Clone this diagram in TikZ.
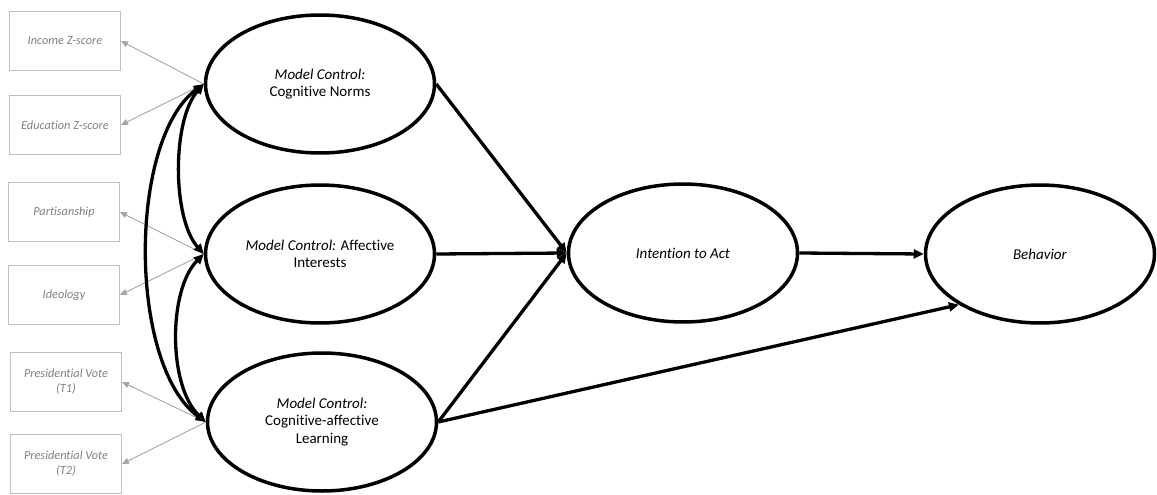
\documentclass[tikz,border=0pt]{standalone}
\usepackage{fontspec}
\setmainfont[Ligatures=NoCommon]{Carlito}
\usetikzlibrary{shapes.geometric,arrows.meta}
\definecolor{boxline}{HTML}{BFBFBF}
\definecolor{boxtext}{HTML}{808080}
\definecolor{linkgray}{HTML}{A6A6A6}
\begin{document}
\begin{tikzpicture}[x=1pt,y=-1pt,
  latent/.style={ellipse, draw, line width=3.5pt, minimum width=229pt, minimum height=138pt,
    inner sep=0pt, align=center, font=\fontsize{15}{17.5}\selectfont},
  control/.style={rectangle, draw=boxline, line width=1pt, minimum width=111pt, minimum height=59pt,
    inner sep=2pt, align=center, text=boxtext, font=\fontsize{12.3}{15}\selectfont\itshape},
  ctrlpath/.style={draw=linkgray, line width=0.9pt, -{Triangle[length=7pt,width=6pt]}},
  path/.style={draw, line width=3.3pt, -{Triangle[length=10pt,width=9pt]}},
  cov/.style={draw, line width=3.3pt, {Triangle[length=10pt,width=9pt]}-{Triangle[length=10pt,width=9pt]}}
]
\useasboundingbox (0,0) rectangle (1157,495);

% control variables
\node[control] (inc) at (65,41)  {Income Z-score};
\node[control] (edu) at (65,125) {Education Z-score};
\node[control] (par) at (64,212) {Partisanship};
\node[control] (ideo) at (64,295) {Ideology};
\node[control] (pv1) at (66,382) {Presidential Vote\\(T1)};
\node[control] (pv2) at (66,464) {Presidential Vote\\(T2)};

% latent constructs
\node[latent] (cn) at (320,84) {\textit{Model Control:}\\Cognitive Norms};
\node[latent] (ai) at (320,254) {\textit{Model Control:} Affective\\Interests};
\node[latent] (cal) at (322,422) {\textit{Model Control:}\\Cognitive-affective\\Learning};
\node[latent] (ia) at (683,253) {\textit{Intention to Act}};
\node[latent] (bh) at (1040,254) {\textit{Behavior}};

% model controls to their indicators
\draw[ctrlpath] (cn.west) -- (inc.east);
\draw[ctrlpath] (cn.west) -- (edu.east);
\draw[ctrlpath] (ai.west) -- (par.east);
\draw[ctrlpath] (ai.west) -- (ideo.east);
\draw[ctrlpath] (cal.west) -- (pv1.east);
\draw[ctrlpath] (cal.west) -- (pv2.east);

% covariances among the model controls
\draw[cov] (cn.west) .. controls (172,120) and (172,218) .. (ai.west);
\draw[cov] (ai.west) .. controls (168,290) and (168,386) .. (cal.west);
\draw[cov] (cn.west) .. controls (128,140) and (128,365) .. (cal.west);

% structural paths
\draw[path] (cn.east) -- (ia.west);
\draw[path] (ai.east) -- (ia.west);
\draw[path] (cal.east) -- (ia.west);
\draw[path] (cal.east) -- (bh.212);
\draw[path] (ia.east) -- (bh.west);
\end{tikzpicture}
\end{document}
